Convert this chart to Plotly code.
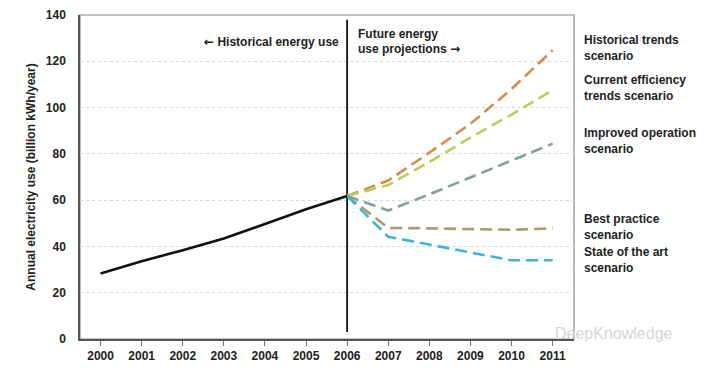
import plotly.graph_objects as go

years_hist = [2000, 2001, 2002, 2003, 2004, 2005, 2006]
hist_use = [28.3, 33.6, 38.4, 43.4, 49.7, 56.1, 61.8]

years_proj = [2006, 2007, 2008, 2009, 2010, 2011]
historical_trends = [61.8, 68.5, 80.5, 93.0, 108.0, 124.8]
current_efficiency = [61.8, 66.5, 76.5, 87.0, 97.0, 107.5]
improved_operation = [61.8, 55.5, 62.5, 69.8, 77.0, 84.4]
best_practice = [61.8, 48.0, 47.8, 47.4, 47.2, 47.8]
state_of_art = [61.8, 44.2, 40.8, 37.3, 34.0, 34.0]

scenario_names = ["Historical trends scenario", "Current efficiency trends scenario",
                  "Improved operation scenario", "Best practice scenario",
                  "State of the art scenario"]
scenario_values = [historical_trends, current_efficiency, improved_operation,
                   best_practice, state_of_art]
scenario_colors = ["#dc8a4c", "#bccd5c", "#82a29a", "#ab9c70", "#3bb7d6"]

scenario_labels = ["Historical trends<br>scenario",
                   "Current efficiency<br>trends scenario",
                   "Improved operation<br>scenario",
                   "Best practice<br>scenario",
                   "State of the art<br>scenario"]
label_center_px = [48, 88, 141, 227, 259.5]

divider_x = [2006, 2006]
divider_y = [3, 138]

x_ticks = list(range(2000, 2012))
y_ticks = [0, 20, 40, 60, 80, 100, 120, 140]

FONT = "Liberation Sans, Arial, sans-serif"
ARROW = '<span style="font-family:DejaVu Sans">%s</span>'

# page has an 8px body margin; figure is offset accordingly
OFF = 8
W, H = 705, 370
l, r, t, b = 80 - OFF, 139, 7, 39
pw, ph = W - l - r, H - t - b


def px2paper(px, py):
    # px, py: page pixel coordinates
    return (px - OFF - l) / pw, 1 - (py - OFF - t) / ph


fig = go.Figure()

fig.add_trace(go.Scatter(x=divider_x, y=divider_y, mode="lines",
                         line=dict(color="#111111", width=1.8), hoverinfo="skip"))

for name, vals, col in zip(scenario_names, scenario_values, scenario_colors):
    fig.add_trace(go.Scatter(x=years_proj, y=vals, mode="lines", name=name,
                             line=dict(color=col, width=2.6, dash="12px,6px")))

fig.add_trace(go.Scatter(x=years_hist, y=hist_use, mode="lines", name="Historical",
                         line=dict(color="#111111", width=2.6)))

for txt, cy in zip(scenario_labels, label_center_px):
    ax, ay = px2paper(582, cy)
    fig.add_annotation(x=ax, y=ay, xref="paper", yref="paper", text="<b>%s</b>" % txt,
                       showarrow=False, xanchor="left", yanchor="middle", align="left",
                       font=dict(size=12, color="#222222", family=FONT))

hx, hy = px2paper(341, 42)
fig.add_annotation(x=hx, y=hy, xref="paper", yref="paper",
                   text="<b>" + ARROW % "\u2190" + " Historical energy use</b>",
                   showarrow=False, xanchor="right", yanchor="middle",
                   font=dict(size=12, color="#222222", family=FONT))
fx, fy = px2paper(356, 34)
fig.add_annotation(x=fx, y=fy, xref="paper", yref="paper", text="<b>Future energy</b>",
                   showarrow=False, xanchor="left", yanchor="middle",
                   font=dict(size=12, color="#222222", family=FONT))
fx, fy = px2paper(356, 49)
fig.add_annotation(x=fx, y=fy, xref="paper", yref="paper",
                   text="<b>use projections " + ARROW % "\u2192" + "</b>",
                   showarrow=False, xanchor="left", yanchor="middle",
                   font=dict(size=12, color="#222222", family=FONT))
wx, wy = px2paper(553, 333)
fig.add_annotation(x=wx, y=wy, xref="paper", yref="paper", text="DeepKnowledge",
                   showarrow=False, xanchor="left", yanchor="middle",
                   font=dict(size=16, color="#d6d6d6", family=FONT))

fig.update_layout(
    width=W, height=H,
    margin=dict(l=l, r=r, t=t, b=b, autoexpand=False),
    paper_bgcolor="white", plot_bgcolor="white",
    showlegend=False,
    font=dict(family=FONT, size=12, color="#222222"),
    xaxis=dict(range=[1999.5, 2011.52], tickvals=x_ticks,
               ticktext=["<b>%d</b>" % v for v in x_ticks],
               showgrid=False, zeroline=False, showline=True, linecolor="#555555", linewidth=1.5,
               ticks="outside", ticklen=5, tickcolor="#777777", tickwidth=1,
               tickfont=dict(size=12, color="#222222"), automargin=False, fixedrange=True),
    yaxis=dict(range=[0, 140], tickvals=y_ticks, ticktext=["<b>%d</b>" % v for v in y_ticks],
               showgrid=True, gridcolor="#d6d6d6", griddash="dot", gridwidth=1,
               zeroline=False, showline=True, linecolor="#555555", linewidth=1.5,
               ticks="", ticklabelstandoff=10, ticklabeloverflow="allow",
               tickfont=dict(size=12, color="#222222"),
               title=dict(text="<b>Annual electricity use (billion kWh/year)</b>",
                          font=dict(size=12, color="#222222"), standoff=8),
               automargin=False, fixedrange=True),
)

fig.add_shape(type="rect", xref="paper", yref="paper", x0=0, y0=0, x1=1, y1=1,
              line=dict(color="#8a8a8a", width=1.2), layer="below")

fig.write_html("out.html")
